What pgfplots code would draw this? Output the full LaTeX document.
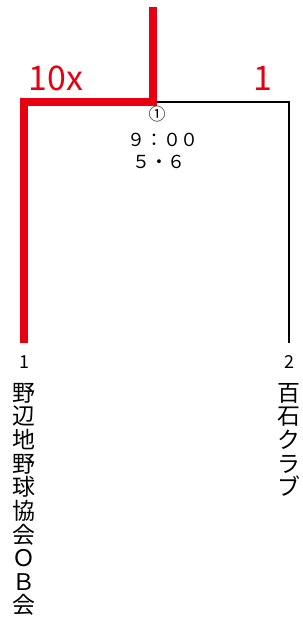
\documentclass[border=0pt]{standalone}
\usepackage{pgfplots}
\pgfplotsset{compat=1.18}
\usepackage{fontspec}
\setmainfont{Noto Sans CJK JP}
\definecolor{wred}{RGB}{230,0,18}
\begin{document}
\begin{tikzpicture}
\begin{axis}[width=303bp,height=624bp,scale only axis,
  xmin=0,xmax=303,ymin=0,ymax=624,y dir=reverse,hide axis,clip=false]
\path (axis cs:0,0) rectangle (axis cs:303,624);
% losing side (black)
\addplot[black,line width=1.3bp] coordinates {(153,102) (289,102) (289,343)};
% winning side (red)
\addplot[wred,line width=8bp,line join=miter] coordinates {(23.5,343) (23.5,102) (153,102) (153,7)};
\node[wred,font=\fontsize{34}{34}\selectfont] at (axis cs:56,78) {10x};
\node[wred,font=\fontsize{34}{34}\selectfont] at (axis cs:263,78) {1};
\node[font=\fontsize{17}{17}\selectfont] at (axis cs:157,114) {①};
\node[font=\fontsize{18}{18}\selectfont] at (axis cs:163,139.5) {９：００};
\node[font=\fontsize{18}{18}\selectfont] at (axis cs:159,162) {５・６};
\node[font=\fontsize{18}{18}\selectfont] at (axis cs:24,362) {1};
\node[font=\fontsize{18}{18}\selectfont] at (axis cs:289,362) {2};
\node[anchor=north,align=center,inner sep=0pt,font=\fontsize{23}{23.7}\selectfont] at (axis cs:24,383) {野\\辺\\地\\野\\球\\協\\会\\Ｏ\\Ｂ\\会};
\node[anchor=north,align=center,inner sep=0pt,font=\fontsize{23}{23.7}\selectfont] at (axis cs:289,383) {百\\石\\ク\\ラ\\ブ};
\end{axis}
\end{tikzpicture}
\end{document}
